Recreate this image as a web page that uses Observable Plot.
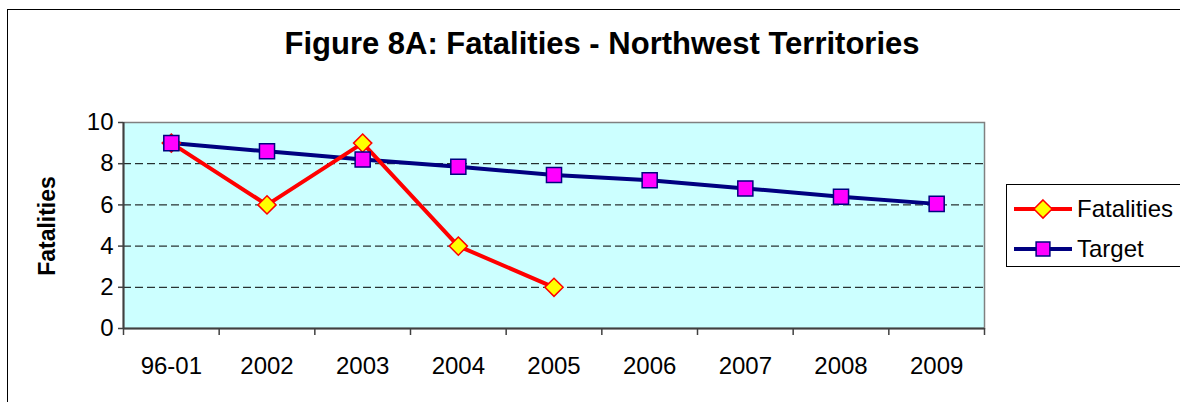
<!DOCTYPE html>
<html>
<head>
<meta charset="utf-8">
<script src="https://cdn.jsdelivr.net/npm/d3@7"></script>
<script src="https://cdn.jsdelivr.net/npm/@observablehq/plot@0.6"></script>
<style>
  html, body { margin: 0; padding: 0; background: #fff; overflow: hidden; }
  #wrap { position: relative; width: 1180px; height: 402px; font-family: "Liberation Sans", Arial, sans-serif; }
  #border { position: absolute; left: 7px; top: 9px; width: 1200px; height: 420px; border: 1px solid #000; box-sizing: border-box; }
  #title { position: absolute; left: 0; width: 1204px; top: 26px; text-align: center; font-size: 31px; font-weight: bold; color: #000; line-height: 1.15; }
  #ylabel { position: absolute; left: 47px; top: 226px; transform: translate(-50%, -50%) rotate(-90deg); font-size: 23px; font-weight: bold; white-space: nowrap; }
  #chart { position: absolute; left: 0; top: 0; }
  #legend { position: absolute; left: 1006px; top: 184px; }
</style>
</head>
<body>
<div id="wrap">
  <div id="border"></div>
  <div id="chart"></div>
  <div id="title">Figure 8A: Fatalities - Northwest Territories</div>
  <div id="ylabel">Fatalities</div>
  <div id="legend"></div>
</div>
<script>
const categories = ["96-01", "2002", "2003", "2004", "2005", "2006", "2007", "2008", "2009"];
const fatalities = [9, 6, 9, 4, 2];
const target = [9, 8.6, 8.2, 7.85, 7.45, 7.2, 6.8, 6.4, 6.05];
const yTicks = [0, 2, 4, 6, 8, 10];
const gridValues = [2, 4, 6, 8];

const fatData = fatalities.map((v, i) => ({cat: categories[i], i: i + 0.5, v}));
const tgtData = target.map((v, i) => ({cat: categories[i], i: i + 0.5, v}));
const boundaries = d3.range(categories.length + 1);
const centers = categories.map((c, i) => i + 0.5);

const plot = Plot.plot({
  width: 1180,
  height: 402,
  marginLeft: 123,
  marginRight: 196,
  marginTop: 122,
  marginBottom: 74,
  style: {fontFamily: "'Liberation Sans', Arial, sans-serif", background: "transparent", overflow: "visible"},
  x: {type: "linear", domain: [0, categories.length]},
  y: {domain: [0, 10]},
  marks: [
    Plot.frame({fill: "#CCFFFF", stroke: "#808080", strokeWidth: 1.5}),
    Plot.ruleY(gridValues, {stroke: "#000", strokeWidth: 1, strokeDasharray: "8,4"}),
    Plot.axisY(yTicks, {tickSize: 5, tickPadding: 5, fontSize: 24, label: null, stroke: "#404040", strokeWidth: 1.5, fill: "#000"}),
    Plot.axisX(boundaries, {tickSize: 7, tickFormat: () => "", label: null, stroke: "#404040", strokeWidth: 1.5}),
    Plot.axisX(centers, {tickSize: 0, tickPadding: 28, fontSize: 24, label: null, fill: "#000", tickFormat: d => categories[Math.round(d - 0.5)]}),
    Plot.ruleX([0], {stroke: "#404040", strokeWidth: 2}),
    Plot.ruleY([0], {stroke: "#404040", strokeWidth: 2}),
    Plot.line(tgtData, {x: "i", y: "v", stroke: "#000080", strokeWidth: 4}),
    Plot.line(fatData, {x: "i", y: "v", stroke: "#FF0000", strokeWidth: 4}),
    Plot.dot(fatData, {x: "i", y: "v", symbol: "diamond2", r: 8.2, fill: "#FFFF00", stroke: "#FF0000", strokeWidth: 1.5}),
    Plot.dot(tgtData, {x: "i", y: "v", symbol: "square", r: 8.5, fill: "#FF00FF", stroke: "#000080", strokeWidth: 1.5})
  ]
});
document.getElementById("chart").appendChild(plot);

// Legend
const series = [
  {name: "Fatalities", stroke: "#FF0000", fill: "#FFFF00", symbol: d3.symbolDiamond2, size: 210},
  {name: "Target", stroke: "#000080", fill: "#FF00FF", symbol: d3.symbolSquare, size: 190}
];
const lg = d3.select("#legend").append("svg")
  .attr("width", 200).attr("height", 84)
  .style("overflow", "visible");
lg.append("rect").attr("x", 0.5).attr("y", 0.5).attr("width", 240).attr("height", 82)
  .attr("fill", "#fff").attr("stroke", "#000").attr("stroke-width", 1);
const item = lg.selectAll("g.item").data(series).join("g")
  .attr("transform", (d, k) => `translate(0, ${25 + k * 40})`);
item.append("line").attr("x1", 8).attr("x2", 66).attr("y1", 0).attr("y2", 0)
  .attr("stroke", d => d.stroke).attr("stroke-width", 4);
item.append("path").attr("transform", "translate(37,0)")
  .attr("d", d => d3.symbol(d.symbol, d.size)())
  .attr("fill", d => d.fill).attr("stroke", d => d.stroke).attr("stroke-width", 1.5);
item.append("text").attr("x", 71).attr("y", 0).attr("dy", "0.35em")
  .attr("font-size", 24).attr("font-family", "'Liberation Sans', Arial, sans-serif")
  .attr("fill", "#000").text(d => d.name);
</script>
</body>
</html>
